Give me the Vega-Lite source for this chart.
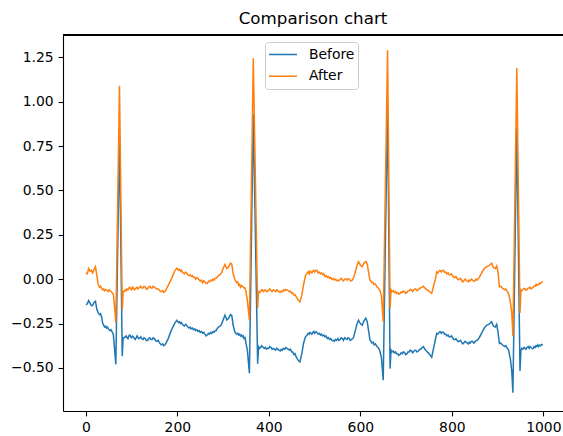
{
  "$schema": "https://vega.github.io/schema/vega-lite/v6.json",
  "autosize": "none",
  "padding": {"left": 63, "top": 35, "right": 0, "bottom": 25},
  "width": 500,
  "height": 376,
  "background": "white",
  "title": {"text": "Comparison chart", "font": "DejaVu Sans", "fontSize": 16.7, "fontWeight": "normal", "color": "black", "offset": 7, "anchor": "middle"},
  "config": {
    "view": {"stroke": null},
    "axis": {"domainColor": "black", "domainWidth": 1.1, "tickColor": "black", "tickWidth": 1.1, "tickSize": 4.9, "labelFont": "DejaVu Sans", "labelFontSize": 13.9, "labelColor": "black", "labelPadding": 4.9, "grid": false, "labelOverlap": false, "labelFlush": false},
    "legend": {"orient": "none", "legendX": 202, "legendY": 7, "symbolType": "stroke", "symbolSize": 784, "symbolStrokeWidth": 1.5, "labelFont": "DejaVu Sans", "labelFontSize": 13.9, "labelColor": "black", "fillColor": "white", "strokeColor": "#cccccc", "cornerRadius": 3, "padding": 3, "rowPadding": 2.7, "clipHeight": 19, "labelOffset": 11}
  },
  "data": {"values": [
    {"x":0,"Before":-0.143,"After":0.035},
    {"x":3,"Before":-0.14,"After":0.03},
    {"x":6,"Before":-0.12,"After":0.06},
    {"x":9,"Before":-0.135,"After":0.045},
    {"x":12,"Before":-0.15,"After":0.05},
    {"x":15,"Before":-0.145,"After":0.035},
    {"x":18,"Before":-0.13,"After":0.055},
    {"x":21,"Before":-0.125,"After":0.07},
    {"x":24,"Before":-0.17,"After":0.02},
    {"x":27,"Before":-0.19,"After":-0.03},
    {"x":30,"Before":-0.2,"After":-0.045},
    {"x":32,"Before":-0.195,"After":-0.04},
    {"x":34,"Before":-0.21,"After":-0.05},
    {"x":37,"Before":-0.25,"After":-0.06},
    {"x":39,"Before":-0.26,"After":-0.055},
    {"x":41,"Before":-0.27,"After":-0.065},
    {"x":43,"Before":-0.265,"After":-0.06},
    {"x":45,"Before":-0.275,"After":-0.06},
    {"x":47,"Before":-0.27,"After":-0.065},
    {"x":49,"Before":-0.28,"After":-0.07},
    {"x":51,"Before":-0.285,"After":-0.06},
    {"x":53,"Before":-0.29,"After":-0.065},
    {"x":55,"Before":-0.285,"After":-0.07},
    {"x":57,"Before":-0.295,"After":-0.075},
    {"x":60,"Before":-0.31,"After":-0.085},
    {"x":62,"Before":-0.37,"After":-0.135},
    {"x":65.5,"Before":-0.48,"After":-0.246},
    {"x":73.5,"Before":0.8,"After":1.09},
    {"x":79.5,"Before":-0.434,"After":-0.175},
    {"x":81.5,"Before":-0.33,"After":-0.07},
    {"x":84,"Before":-0.33,"After":-0.07},
    {"x":86,"Before":-0.325,"After":-0.06},
    {"x":88,"Before":-0.32,"After":-0.065},
    {"x":90,"Before":-0.33,"After":-0.055},
    {"x":92,"Before":-0.335,"After":-0.06},
    {"x":94,"Before":-0.32,"After":-0.05},
    {"x":96,"Before":-0.315,"After":-0.045},
    {"x":98,"Before":-0.325,"After":-0.055},
    {"x":100,"Before":-0.33,"After":-0.06},
    {"x":102,"Before":-0.32,"After":-0.045},
    {"x":104,"Before":-0.325,"After":-0.05},
    {"x":106,"Before":-0.335,"After":-0.06},
    {"x":108,"Before":-0.34,"After":-0.055},
    {"x":110,"Before":-0.33,"After":-0.05},
    {"x":112,"Before":-0.32,"After":-0.045},
    {"x":114,"Before":-0.33,"After":-0.055},
    {"x":116,"Before":-0.335,"After":-0.05},
    {"x":118,"Before":-0.33,"After":-0.045},
    {"x":120,"Before":-0.325,"After":-0.04},
    {"x":122,"Before":-0.335,"After":-0.05},
    {"x":125,"Before":-0.34,"After":-0.05},
    {"x":127,"Before":-0.33,"After":-0.04},
    {"x":130,"Before":-0.335,"After":-0.045},
    {"x":132,"Before":-0.345,"After":-0.055},
    {"x":135,"Before":-0.345,"After":-0.055},
    {"x":137,"Before":-0.335,"After":-0.045},
    {"x":140,"Before":-0.33,"After":-0.04},
    {"x":142,"Before":-0.34,"After":-0.05},
    {"x":145,"Before":-0.34,"After":-0.05},
    {"x":147,"Before":-0.33,"After":-0.04},
    {"x":150,"Before":-0.335,"After":-0.045},
    {"x":152,"Before":-0.345,"After":-0.05},
    {"x":155,"Before":-0.35,"After":-0.055},
    {"x":158,"Before":-0.345,"After":-0.055},
    {"x":160,"Before":-0.355,"After":-0.06},
    {"x":163,"Before":-0.365,"After":-0.07},
    {"x":165,"Before":-0.37,"After":-0.07},
    {"x":168,"Before":-0.365,"After":-0.065},
    {"x":170,"Before":-0.375,"After":-0.075},
    {"x":173,"Before":-0.37,"After":-0.07},
    {"x":175,"Before":-0.36,"After":-0.06},
    {"x":180,"Before":-0.335,"After":-0.035},
    {"x":185,"Before":-0.3,"After":-0.01},
    {"x":190,"Before":-0.27,"After":0.02},
    {"x":195,"Before":-0.245,"After":0.05},
    {"x":199,"Before":-0.232,"After":0.062},
    {"x":201,"Before":-0.24,"After":0.055},
    {"x":203,"Before":-0.245,"After":0.05},
    {"x":205,"Before":-0.24,"After":0.055},
    {"x":207,"Before":-0.25,"After":0.045},
    {"x":209,"Before":-0.245,"After":0.05},
    {"x":211,"Before":-0.255,"After":0.04},
    {"x":213,"Before":-0.26,"After":0.035},
    {"x":215,"Before":-0.265,"After":0.03},
    {"x":218,"Before":-0.255,"After":0.04},
    {"x":220,"Before":-0.26,"After":0.035},
    {"x":223,"Before":-0.27,"After":0.025},
    {"x":225,"Before":-0.275,"After":0.02},
    {"x":228,"Before":-0.27,"After":0.025},
    {"x":230,"Before":-0.28,"After":0.015},
    {"x":233,"Before":-0.275,"After":0.02},
    {"x":235,"Before":-0.285,"After":0.01},
    {"x":238,"Before":-0.28,"After":0.012},
    {"x":240,"Before":-0.29,"After":0.0},
    {"x":243,"Before":-0.285,"After":0.008},
    {"x":245,"Before":-0.295,"After":0.005},
    {"x":248,"Before":-0.29,"After":-0.005},
    {"x":250,"Before":-0.3,"After":-0.01},
    {"x":253,"Before":-0.295,"After":-0.005},
    {"x":255,"Before":-0.305,"After":-0.02},
    {"x":258,"Before":-0.3,"After":-0.01},
    {"x":260,"Before":-0.31,"After":-0.015},
    {"x":263,"Before":-0.32,"After":-0.025},
    {"x":265,"Before":-0.315,"After":-0.025},
    {"x":268,"Before":-0.305,"After":-0.012},
    {"x":270,"Before":-0.31,"After":-0.015},
    {"x":273,"Before":-0.3,"After":-0.005},
    {"x":275,"Before":-0.305,"After":-0.01},
    {"x":278,"Before":-0.295,"After":0.0},
    {"x":280,"Before":-0.3,"After":-0.005},
    {"x":283,"Before":-0.29,"After":0.005},
    {"x":285,"Before":-0.29,"After":0.005},
    {"x":288,"Before":-0.275,"After":0.015},
    {"x":290,"Before":-0.27,"After":0.02},
    {"x":293,"Before":-0.265,"After":0.025},
    {"x":295,"Before":-0.26,"After":0.03},
    {"x":298,"Before":-0.245,"After":0.045},
    {"x":300,"Before":-0.23,"After":0.06},
    {"x":304,"Before":-0.203,"After":0.083},
    {"x":306,"Before":-0.215,"After":0.072},
    {"x":308,"Before":-0.23,"After":0.06},
    {"x":312,"Before":-0.22,"After":0.07},
    {"x":316,"Before":-0.2,"After":0.09},
    {"x":319,"Before":-0.205,"After":0.085},
    {"x":322,"Before":-0.26,"After":0.03},
    {"x":326,"Before":-0.3,"After":-0.005},
    {"x":330,"Before":-0.31,"After":-0.02},
    {"x":332,"Before":-0.305,"After":-0.015},
    {"x":334,"Before":-0.315,"After":-0.035},
    {"x":336,"Before":-0.31,"After":-0.03},
    {"x":338,"Before":-0.32,"After":-0.045},
    {"x":340,"Before":-0.315,"After":-0.035},
    {"x":342,"Before":-0.325,"After":-0.04},
    {"x":344,"Before":-0.32,"After":-0.045},
    {"x":346,"Before":-0.335,"After":-0.05},
    {"x":348,"Before":-0.33,"After":-0.05},
    {"x":350,"Before":-0.36,"After":-0.07},
    {"x":353,"Before":-0.4,"After":-0.12},
    {"x":357.5,"Before":-0.53,"After":-0.23},
    {"x":366,"Before":0.93,"After":1.245},
    {"x":375.5,"Before":-0.476,"After":-0.165},
    {"x":377.5,"Before":-0.38,"After":-0.07},
    {"x":380,"Before":-0.39,"After":-0.075},
    {"x":382,"Before":-0.385,"After":-0.07},
    {"x":384,"Before":-0.375,"After":-0.06},
    {"x":386,"Before":-0.38,"After":-0.06},
    {"x":388,"Before":-0.385,"After":-0.07},
    {"x":390,"Before":-0.39,"After":-0.065},
    {"x":392,"Before":-0.385,"After":-0.06},
    {"x":395,"Before":-0.395,"After":-0.07},
    {"x":397,"Before":-0.39,"After":-0.07},
    {"x":400,"Before":-0.39,"After":-0.06},
    {"x":402,"Before":-0.38,"After":-0.055},
    {"x":405,"Before":-0.385,"After":-0.065},
    {"x":407,"Before":-0.395,"After":-0.07},
    {"x":410,"Before":-0.39,"After":-0.06},
    {"x":412,"Before":-0.395,"After":-0.065},
    {"x":415,"Before":-0.4,"After":-0.07},
    {"x":417,"Before":-0.39,"After":-0.06},
    {"x":420,"Before":-0.395,"After":-0.065},
    {"x":422,"Before":-0.4,"After":-0.07},
    {"x":425,"Before":-0.405,"After":-0.075},
    {"x":427,"Before":-0.395,"After":-0.068},
    {"x":430,"Before":-0.4,"After":-0.07},
    {"x":432,"Before":-0.39,"After":-0.06},
    {"x":435,"Before":-0.395,"After":-0.065},
    {"x":437,"Before":-0.385,"After":-0.058},
    {"x":440,"Before":-0.39,"After":-0.06},
    {"x":442,"Before":-0.395,"After":-0.065},
    {"x":445,"Before":-0.4,"After":-0.07},
    {"x":447,"Before":-0.395,"After":-0.068},
    {"x":450,"Before":-0.41,"After":-0.08},
    {"x":452,"Before":-0.41,"After":-0.078},
    {"x":455,"Before":-0.425,"After":-0.09},
    {"x":457,"Before":-0.42,"After":-0.088},
    {"x":460,"Before":-0.44,"After":-0.1},
    {"x":465,"Before":-0.46,"After":-0.12},
    {"x":468,"Before":-0.466,"After":-0.128},
    {"x":472,"Before":-0.42,"After":-0.09},
    {"x":476,"Before":-0.36,"After":-0.03},
    {"x":480,"Before":-0.325,"After":0.02},
    {"x":484,"Before":-0.315,"After":0.035},
    {"x":486,"Before":-0.305,"After":0.042},
    {"x":488,"Before":-0.31,"After":0.03},
    {"x":490,"Before":-0.3,"After":0.045},
    {"x":492,"Before":-0.305,"After":0.04},
    {"x":494,"Before":-0.31,"After":0.035},
    {"x":496,"Before":-0.3,"After":0.045},
    {"x":498,"Before":-0.295,"After":0.05},
    {"x":500,"Before":-0.305,"After":0.04},
    {"x":503,"Before":-0.295,"After":0.05},
    {"x":505,"Before":-0.3,"After":0.05},
    {"x":508,"Before":-0.31,"After":0.035},
    {"x":510,"Before":-0.305,"After":0.04},
    {"x":513,"Before":-0.315,"After":0.03},
    {"x":515,"Before":-0.31,"After":0.035},
    {"x":518,"Before":-0.32,"After":0.025},
    {"x":520,"Before":-0.315,"After":0.03},
    {"x":523,"Before":-0.325,"After":0.015},
    {"x":525,"Before":-0.32,"After":0.02},
    {"x":528,"Before":-0.335,"After":0.01},
    {"x":530,"Before":-0.33,"After":0.015},
    {"x":533,"Before":-0.34,"After":0.005},
    {"x":535,"Before":-0.335,"After":0.01},
    {"x":538,"Before":-0.345,"After":-0.002},
    {"x":541,"Before":-0.344,"After":0.004},
    {"x":543,"Before":-0.35,"After":-0.005},
    {"x":546,"Before":-0.34,"After":0.0},
    {"x":548,"Before":-0.345,"After":-0.008},
    {"x":551,"Before":-0.335,"After":-0.005},
    {"x":553,"Before":-0.345,"After":-0.01},
    {"x":556,"Before":-0.34,"After":0.0},
    {"x":558,"Before":-0.33,"After":0.005},
    {"x":561,"Before":-0.335,"After":-0.005},
    {"x":563,"Before":-0.345,"After":-0.01},
    {"x":566,"Before":-0.33,"After":0.0},
    {"x":568,"Before":-0.335,"After":0.002},
    {"x":571,"Before":-0.34,"After":-0.005},
    {"x":573,"Before":-0.33,"After":0.003},
    {"x":576,"Before":-0.335,"After":0.0},
    {"x":578,"Before":-0.345,"After":-0.008},
    {"x":581,"Before":-0.34,"After":-0.01},
    {"x":585,"Before":-0.33,"After":0.005},
    {"x":589,"Before":-0.29,"After":0.04},
    {"x":593,"Before":-0.25,"After":0.08},
    {"x":596,"Before":-0.231,"After":0.098},
    {"x":600,"Before":-0.25,"After":0.08},
    {"x":604,"Before":-0.26,"After":0.07},
    {"x":608,"Before":-0.235,"After":0.09},
    {"x":612,"Before":-0.22,"After":0.1},
    {"x":615,"Before":-0.24,"After":0.085},
    {"x":618,"Before":-0.29,"After":0.04},
    {"x":621,"Before":-0.344,"After":-0.007},
    {"x":623,"Before":-0.35,"After":-0.012},
    {"x":625,"Before":-0.36,"After":-0.02},
    {"x":628,"Before":-0.355,"After":-0.018},
    {"x":630,"Before":-0.37,"After":-0.03},
    {"x":633,"Before":-0.365,"After":-0.028},
    {"x":636,"Before":-0.38,"After":-0.043},
    {"x":639,"Before":-0.385,"After":-0.05},
    {"x":642,"Before":-0.4,"After":-0.06},
    {"x":646,"Before":-0.44,"After":-0.09},
    {"x":650,"Before":-0.57,"After":-0.24},
    {"x":659.5,"Before":0.98,"After":1.29},
    {"x":665,"Before":-0.504,"After":-0.165},
    {"x":667,"Before":-0.4,"After":-0.06},
    {"x":669,"Before":-0.41,"After":-0.07},
    {"x":672,"Before":-0.405,"After":-0.065},
    {"x":674,"Before":-0.415,"After":-0.075},
    {"x":677,"Before":-0.41,"After":-0.07},
    {"x":679,"Before":-0.42,"After":-0.08},
    {"x":682,"Before":-0.42,"After":-0.075},
    {"x":684,"Before":-0.43,"After":-0.085},
    {"x":687,"Before":-0.425,"After":-0.08},
    {"x":689,"Before":-0.415,"After":-0.072},
    {"x":692,"Before":-0.42,"After":-0.075},
    {"x":694,"Before":-0.41,"After":-0.068},
    {"x":697,"Before":-0.415,"After":-0.07},
    {"x":699,"Before":-0.425,"After":-0.08},
    {"x":702,"Before":-0.42,"After":-0.075},
    {"x":704,"Before":-0.41,"After":-0.066},
    {"x":707,"Before":-0.41,"After":-0.065},
    {"x":709,"Before":-0.4,"After":-0.058},
    {"x":712,"Before":-0.405,"After":-0.06},
    {"x":714,"Before":-0.415,"After":-0.07},
    {"x":716,"Before":-0.41,"After":-0.062},
    {"x":719,"Before":-0.4,"After":-0.055},
    {"x":721,"Before":-0.4,"After":-0.055},
    {"x":724,"Before":-0.41,"After":-0.065},
    {"x":727,"Before":-0.405,"After":-0.06},
    {"x":730,"Before":-0.395,"After":-0.05},
    {"x":732,"Before":-0.395,"After":-0.05},
    {"x":735,"Before":-0.385,"After":-0.045},
    {"x":738,"Before":-0.38,"After":-0.04},
    {"x":741,"Before":-0.395,"After":-0.05},
    {"x":743,"Before":-0.4,"After":-0.055},
    {"x":746,"Before":-0.41,"After":-0.06},
    {"x":749,"Before":-0.415,"After":-0.065},
    {"x":753,"Before":-0.43,"After":-0.075},
    {"x":756,"Before":-0.44,"After":-0.08},
    {"x":760,"Before":-0.39,"After":-0.04},
    {"x":764,"Before":-0.34,"After":0.0},
    {"x":767,"Before":-0.306,"After":0.041},
    {"x":769,"Before":-0.31,"After":0.035},
    {"x":772,"Before":-0.3,"After":0.045},
    {"x":774,"Before":-0.295,"After":0.05},
    {"x":777,"Before":-0.305,"After":0.04},
    {"x":779,"Before":-0.298,"After":0.048},
    {"x":782,"Before":-0.3,"After":0.05},
    {"x":784,"Before":-0.31,"After":0.038},
    {"x":787,"Before":-0.31,"After":0.04},
    {"x":789,"Before":-0.32,"After":0.03},
    {"x":792,"Before":-0.315,"After":0.035},
    {"x":794,"Before":-0.325,"After":0.025},
    {"x":797,"Before":-0.325,"After":0.025},
    {"x":799,"Before":-0.32,"After":0.03},
    {"x":802,"Before":-0.33,"After":0.02},
    {"x":804,"Before":-0.34,"After":0.01},
    {"x":807,"Before":-0.34,"After":0.01},
    {"x":809,"Before":-0.335,"After":0.015},
    {"x":811,"Before":-0.344,"After":0.005},
    {"x":814,"Before":-0.352,"After":-0.003},
    {"x":816,"Before":-0.35,"After":0.0},
    {"x":819,"Before":-0.345,"After":0.005},
    {"x":821,"Before":-0.355,"After":-0.005},
    {"x":824,"Before":-0.365,"After":-0.015},
    {"x":826,"Before":-0.36,"After":-0.01},
    {"x":829,"Before":-0.35,"After":0.0},
    {"x":831,"Before":-0.355,"After":-0.005},
    {"x":834,"Before":-0.36,"After":-0.012},
    {"x":836,"Before":-0.365,"After":-0.015},
    {"x":838,"Before":-0.355,"After":-0.005},
    {"x":840,"Before":-0.36,"After":-0.01},
    {"x":843,"Before":-0.35,"After":0.0},
    {"x":845,"Before":-0.35,"After":-0.005},
    {"x":848,"Before":-0.36,"After":-0.012},
    {"x":850,"Before":-0.355,"After":-0.01},
    {"x":853,"Before":-0.345,"After":0.0},
    {"x":855,"Before":-0.345,"After":-0.005},
    {"x":860,"Before":-0.33,"After":0.01},
    {"x":866,"Before":-0.3,"After":0.04},
    {"x":871,"Before":-0.275,"After":0.06},
    {"x":876,"Before":-0.26,"After":0.07},
    {"x":881,"Before":-0.255,"After":0.075},
    {"x":887,"Before":-0.24,"After":0.09},
    {"x":891,"Before":-0.265,"After":0.065},
    {"x":895,"Before":-0.27,"After":0.06},
    {"x":898,"Before":-0.255,"After":0.075},
    {"x":901,"Before":-0.3,"After":0.04},
    {"x":904,"Before":-0.363,"After":-0.043},
    {"x":907,"Before":-0.36,"After":-0.04},
    {"x":910,"Before":-0.37,"After":-0.05},
    {"x":913,"Before":-0.375,"After":-0.055},
    {"x":916,"Before":-0.38,"After":-0.06},
    {"x":918,"Before":-0.375,"After":-0.055},
    {"x":920,"Before":-0.385,"After":-0.065},
    {"x":924,"Before":-0.4,"After":-0.08},
    {"x":928,"Before":-0.45,"After":-0.13},
    {"x":931,"Before":-0.52,"After":-0.19},
    {"x":933.5,"Before":-0.64,"After":-0.32},
    {"x":942,"Before":0.85,"After":1.19},
    {"x":949,"Before":-0.517,"After":-0.19},
    {"x":951,"Before":-0.4,"After":-0.06},
    {"x":953,"Before":-0.39,"After":-0.065},
    {"x":955,"Before":-0.395,"After":-0.06},
    {"x":958,"Before":-0.385,"After":-0.052},
    {"x":960,"Before":-0.39,"After":-0.055},
    {"x":962,"Before":-0.395,"After":-0.062},
    {"x":964,"Before":-0.385,"After":-0.06},
    {"x":967,"Before":-0.38,"After":-0.05},
    {"x":969,"Before":-0.39,"After":-0.05},
    {"x":971,"Before":-0.38,"After":-0.045},
    {"x":973,"Before":-0.385,"After":-0.055},
    {"x":976,"Before":-0.392,"After":-0.05},
    {"x":978,"Before":-0.39,"After":-0.045},
    {"x":980,"Before":-0.38,"After":-0.04},
    {"x":982,"Before":-0.385,"After":-0.04},
    {"x":984,"Before":-0.375,"After":-0.03},
    {"x":986,"Before":-0.38,"After":-0.035},
    {"x":988,"Before":-0.37,"After":-0.03},
    {"x":990,"Before":-0.38,"After":-0.03},
    {"x":992,"Before":-0.372,"After":-0.022},
    {"x":994,"Before":-0.375,"After":-0.025},
    {"x":996,"Before":-0.368,"After":-0.018},
    {"x":999,"Before":-0.372,"After":-0.015}
  ]},
  "layer": [
    {
      "transform": [{"fold": ["Before", "After"], "as": ["series", "value"]}],
      "mark": {"type": "line", "strokeWidth": 1.5, "clip": true},
      "encoding": {
        "x": {"field": "x", "type": "quantitative", "scale": {"domain": [-50, 1043], "nice": false, "zero": false},
              "axis": {"title": null, "values": [0, 200, 400, 600, 800, 1000], "format": "d"}},
        "y": {"field": "value", "type": "quantitative", "scale": {"domain": [-0.743, 1.376], "nice": false, "zero": false},
              "axis": {"title": null, "values": [-0.5, -0.25, 0, 0.25, 0.5, 0.75, 1, 1.25], "format": ".2f"}},
        "color": {"field": "series", "type": "nominal", "scale": {"domain": ["Before", "After"], "range": ["#1f77b4", "#ff7f0e"]}, "legend": {"title": null}},
        "order": {"field": "x", "type": "quantitative"}
      }
    },
    {
      "mark": {"type": "rule", "color": "black", "strokeWidth": 1},
      "encoding": {"y": {"datum": 1.3732}}
    }
  ]
}
